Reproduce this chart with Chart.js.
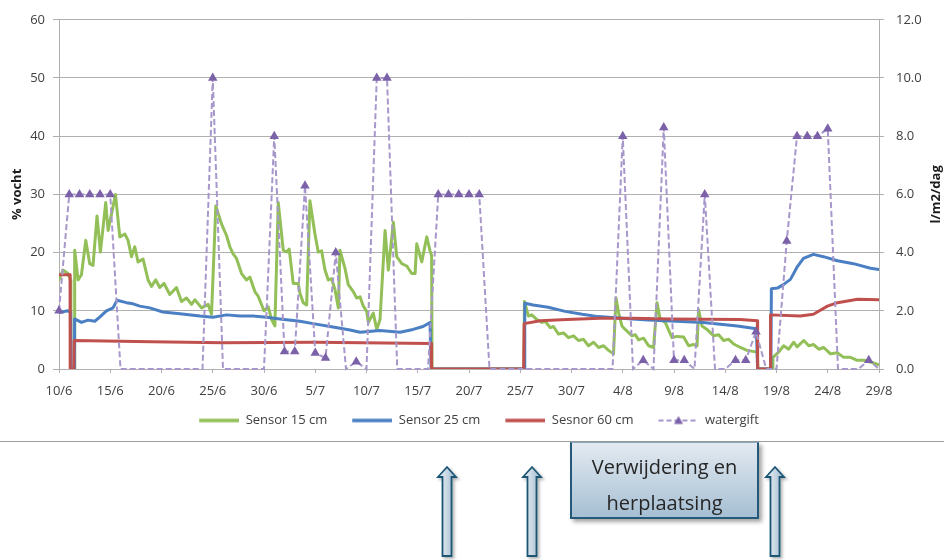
<!DOCTYPE html>
<html>
<head>
<meta charset="utf-8">
<script src="https://cdn.jsdelivr.net/npm/chart.js@4.4.1/dist/chart.umd.min.js"></script>
<style>
  body { margin: 0; background: #fff; font-family: 'Open Sans', sans-serif; }
  #wrap { position: relative; width: 944px; height: 560px; overflow: hidden; }
  #chart { position: absolute; left: 0; top: 0; }
  #rule { position: absolute; left: 0; top: 441px; width: 944px; height: 1px; background: #9c9c9c; }
  #note {
    position: absolute; left: 570px; top: 442px; width: 185px; height: 68px; padding-top: 6px;
    border: 2px solid #24597a; border-top: 1px solid #8aa7bc;
    background: linear-gradient(#e3eaf1, #a6bfd3);
    box-shadow: 3px 3px 4px rgba(0,0,0,0.35);
    text-align: center; font-size: 20px; line-height: 36px; color: #262626;
  }
  #arrows { position: absolute; left: 0; top: 0; }
</style>
</head>
<body>
<div id="wrap">
  <canvas id="chart" width="944" height="442"></canvas>
  <div id="rule"></div>
  <svg id="arrows" width="944" height="560"></svg>
  <div id="note">Verwijdering en<br>herplaatsing</div>
</div>
<script>
// ===============================
// Vochtgehalte sensoren + watergift
// ===============================

// x = dagen vanaf 10/6
const tickLabels = ['10/6', '15/6', '20/6', '25/6', '30/6', '5/7', '10/7', '15/7', '20/7',
  '25/7', '30/7', '4/8', '9/8', '14/8', '19/8', '24/8', '29/8'];
const seriesNames = ['Sensor 15 cm', 'Sensor 25 cm', 'Sesnor 60 cm', 'watergift'];

// % vocht, [dag, waarde]
const sensor15 = [
  [0, 15.3], [0.39, 17.0], [0.88, 16.4], [1.12, 15.3], [1.16, 0], [1.5, 0], [1.53, 20.4], [1.86, 15.3],
  [2.19, 16.2], [2.61, 22.1], [3.0, 18.1], [3.32, 17.8], [3.71, 26.3], [4.04, 20.1], [4.56, 28.6],
  [4.79, 23.8], [5.05, 26.0], [5.51, 30.0], [5.93, 22.7], [6.42, 23.2], [6.74, 22.1], [7.07, 19.3],
  [7.39, 21.0], [7.71, 18.4], [8.2, 18.9], [8.69, 15.3], [9.02, 14.2], [9.44, 15.3], [9.83, 14.0],
  [10.25, 14.7], [10.81, 12.8], [11.46, 14.0], [11.95, 11.6], [12.44, 12.2], [12.93, 11.1],
  [13.25, 11.9], [13.91, 10.5], [14.55, 11.1], [14.88, 9.4], [15.3, 28.0], [15.86, 24.9],
  [16.35, 22.9], [16.67, 21.0], [16.99, 19.8], [17.32, 19.0], [17.81, 16.4], [18.3, 15.3],
  [18.62, 15.8], [19.11, 13.3], [19.43, 12.5], [20.0, 10.0], [20.41, 10.7], [20.74, 8.5],
  [21.06, 7.4], [21.39, 28.6], [21.88, 20.4], [22.21, 20.1], [22.46, 20.6], [22.85, 14.7],
  [23.34, 14.7], [23.51, 13.0], [23.83, 11.4], [24.16, 11.0], [24.48, 28.9], [24.97, 23.2],
  [25.29, 20.1], [25.62, 20.3], [25.95, 17.0], [26.27, 15.3], [26.6, 15.5], [26.93, 13.6],
  [27.25, 10.5], [27.41, 20.4], [27.9, 17.3], [28.22, 14.5], [28.71, 13.3], [29.04, 12.2],
  [29.37, 12.4], [29.69, 10.8], [30.02, 9.9], [30.18, 8.0], [30.66, 9.6], [31.0, 6.8], [31.32, 8.5],
  [31.81, 23.8], [32.13, 17.0], [32.62, 25.2], [32.95, 19.3], [33.44, 18.1], [33.93, 17.7],
  [34.41, 16.4], [34.74, 16.4], [34.9, 21.5], [35.39, 18.4], [35.88, 22.7], [36.2, 20.3],
  [36.35, 19.5], [36.4, 0],
  [45.36, 0], [45.41, 11.6], [45.8, 9.1], [46.13, 9.3], [46.62, 8.5], [47.11, 8.0], [47.43, 8.2],
  [47.92, 7.1], [48.24, 7.3], [48.73, 6.0], [49.22, 6.2], [49.71, 5.4], [50.2, 5.7], [50.68, 4.9],
  [51.17, 5.1], [51.66, 4.0], [52.15, 4.6], [52.64, 3.7], [53.13, 4.0], [53.61, 3.2], [54.1, 2.6],
  [54.34, 12.2], [54.59, 9.7], [54.92, 7.4], [55.24, 6.8], [55.9, 5.7], [56.22, 5.9], [56.54, 5.0],
  [57.03, 5.3], [57.52, 4.0], [58.01, 3.7], [58.34, 11.4], [58.66, 8.5], [59.15, 8.0], [59.8, 5.4],
  [60.29, 5.6], [60.94, 5.5], [61.43, 4.0], [61.91, 4.2], [62.25, 4.0], [62.4, 10.2], [62.73, 7.4],
  [63.22, 6.8], [63.87, 5.7], [64.36, 5.9], [64.84, 4.9], [65.33, 5.1], [65.82, 4.3], [66.47, 3.7],
  [67.13, 3.2], [68.11, 2.9], [68.2, 0], [69.6, 0], [69.65, 2.0], [70.21, 2.9], [70.7, 4.0],
  [71.19, 3.4], [71.68, 4.6], [72.01, 3.8], [72.66, 4.9], [73.15, 4.0], [73.63, 4.2], [74.12, 3.4],
  [74.61, 3.7], [75.26, 2.6], [75.92, 2.8], [76.56, 2.0], [77.22, 2.0], [77.87, 1.5], [78.52, 1.5],
  [79.17, 1.2], [80, 0.7]
];

const sensor25 = [
  [0, 9.7], [0.88, 10.0], [1.14, 9.7], [1.18, 0], [1.48, 0], [1.52, 8.6], [2.19, 8.0], [2.83, 8.4],
  [3.49, 8.2], [3.97, 8.9], [4.63, 10.0], [5.27, 10.5], [5.66, 11.8], [6.58, 11.4], [7.23, 11.2],
  [7.88, 10.8], [8.86, 10.5], [10.13, 9.8], [11.79, 9.5], [13.75, 9.1], [15.01, 8.9], [16.35, 9.3],
  [17.65, 9.1], [18.92, 9.1], [20.25, 8.9], [21.55, 8.6], [23.51, 8.2], [24.78, 7.8], [26.73, 7.2],
  [28.39, 6.7], [29.37, 6.3], [31.32, 6.6], [33.27, 6.3], [34.54, 6.8], [35.52, 7.3], [36.2, 8.0],
  [36.3, 0],
  [45.38, 0], [45.44, 11.3], [46.26, 11.0], [47.72, 10.6], [49.38, 9.9], [51.05, 9.4], [52.61, 9.0],
  [54.27, 8.8], [55.93, 8.6], [57.49, 8.4], [59.64, 8.25], [62.86, 8.0], [66.18, 7.4], [68.04, 6.9],
  [68.15, 0], [69.45, 0], [69.5, 13.8], [70.09, 13.9], [70.67, 14.5], [71.36, 15.4], [72.04, 17.6],
  [72.63, 19.0], [73.6, 19.7], [74.58, 19.3], [75.95, 18.6], [77.51, 18.1], [79.17, 17.3], [80, 17.1]
];

const sensor60 = [
  [0, 16.2], [1.08, 16.2], [1.09, 0], [1.45, 0], [1.48, 4.9], [9, 4.7], [16, 4.5], [25, 4.6],
  [36.3, 4.4], [36.35, 0],
  [45.33, 0], [45.38, 7.8], [46.95, 8.3], [49.55, 8.5], [52.8, 8.7], [55.93, 8.7], [59.64, 8.6],
  [66.47, 8.5], [68.13, 8.3], [68.16, 0], [69.38, 0], [69.42, 9.3], [72.33, 9.1], [73.6, 9.4],
  [74.97, 10.8], [75.95, 11.4], [77.9, 12.0], [80, 11.9]
];

// l/m2/dag, een waarde per dag vanaf 10/6
const watergift = [
  2.0, 6.0, 6.0, 6.0, 6.0, 6.0, 0, 0, 0, 0, 0, 0, 0, 0, 0, 10.0, 0, 0, 0, 0, 0,
  8.0, 0.6, 0.6, 6.3, 0.55, 0.38, 4.0, 0, 0.25, 0, 10.0, 10.0, 0, 0, 0, 0,
  6.0, 6.0, 6.0, 6.0, 6.0, 0, 0, 0, 0, 0, 0, 0, 0, 0, 0, 0, 0, 0,
  8.0, 0, 0.3, 0, 8.3, 0.3, 0.3, 0, 6.0, 0, 0, 0.3, 0.3, 1.28, 0, 0,
  4.4, 8.0, 8.0, 8.0, 8.26, 0, 0, 0, 0.3, 0
];

const GREEN = '#92bf57';
const BLUE = '#4a7fc3';
const RED = '#c0504d';
const PURPLE = '#7b61a8';
const PURPLE_LINE = '#a797cb';
const GRID = '#b0b0b0';
const TEXT = '#404040';

Chart.defaults.font.family = "'Open Sans', sans-serif";
Chart.defaults.font.size = 13;
Chart.defaults.color = TEXT;

const toXY = arr => arr.map(p => ({ x: p[0], y: p[1] }));

// legend icons: 54 wide, line on the right 40 px (left part is spacing)
function legendIcon(color, dashed) {
    const c = document.createElement('canvas');
    c.width = 54; c.height = 12;
    const g = c.getContext('2d');
    g.strokeStyle = dashed ? PURPLE_LINE : color;
    g.lineWidth = dashed ? 2 : 3.5;
    if (dashed) g.setLineDash([5, 3]);
    g.beginPath(); g.moveTo(14, 6); g.lineTo(54, 6); g.stroke();
    if (dashed) {
        g.fillStyle = PURPLE;
        g.beginPath(); g.moveTo(34, 1.5); g.lineTo(38.5, 9.5); g.lineTo(29.5, 9.5); g.closePath(); g.fill();
    }
    return c;
}
const legendIcons = [legendIcon(GREEN), legendIcon(BLUE), legendIcon(RED), legendIcon(PURPLE, true)];

// right axis title reads bottom to top, like the left one
const rightTitle = {
    id: 'rightTitle',
    afterDraw(chart) {
        const ctx = chart.ctx;
        const area = chart.chartArea;
        ctx.save();
        ctx.translate(936, (area.top + area.bottom) / 2);
        ctx.rotate(-Math.PI / 2);
        ctx.font = "bold 13px 'Open Sans'";
        ctx.fillStyle = '#1e1e1e';
        ctx.textAlign = 'center';
        ctx.textBaseline = 'middle';
        ctx.fillText('l/m2/dag', 0, 0);
        ctx.restore();
    }
};

const ctx = document.getElementById('chart').getContext('2d');
new Chart(ctx, {
    type: 'line',
    data: {
        datasets: [
            {
                label: seriesNames[0], data: toXY(sensor15), yAxisID: 'y', order: 4,
                borderColor: GREEN, backgroundColor: GREEN, borderWidth: 3, pointRadius: 0,
                borderJoinStyle: 'round', borderCapStyle: 'round'
            },
            {
                label: seriesNames[1], data: toXY(sensor25), yAxisID: 'y', order: 3,
                borderColor: BLUE, backgroundColor: BLUE, borderWidth: 3, pointRadius: 0,
                borderJoinStyle: 'round', borderCapStyle: 'round'
            },
            {
                label: seriesNames[2], data: toXY(sensor60), yAxisID: 'y', order: 2,
                borderColor: RED, backgroundColor: RED, borderWidth: 3, pointRadius: 0,
                borderJoinStyle: 'round', borderCapStyle: 'round'
            },
            {
                label: seriesNames[3], data: watergift.map((v, i) => ({ x: i, y: v })), yAxisID: 'y2', order: 1,
                borderColor: PURPLE_LINE, backgroundColor: PURPLE, borderWidth: 2, borderDash: [6, 3],
                pointStyle: 'triangle', clip: 8,
                pointRadius: c => (c.raw && c.raw.y > 0 ? 5.5 : 0),
                pointBackgroundColor: PURPLE, pointBorderColor: PURPLE, pointBorderWidth: 0
            }
        ]
    },
    options: {
        responsive: false,
        animation: false,
        devicePixelRatio: 1,
        layout: { padding: { left: 0, right: 0, top: 15, bottom: 5 } },
        plugins: {
            tooltip: { enabled: false },
            legend: {
                position: 'bottom',
                labels: {
                    usePointStyle: true,
                    pointStyleWidth: 54,
                    padding: 11,
                    color: TEXT,
                    font: { size: 13 },
                    generateLabels(chart) {
                        const items = Chart.defaults.plugins.legend.labels.generateLabels(chart);
                        items.forEach(it => { it.pointStyle = legendIcons[it.datasetIndex]; });
                        return items;
                    },
                    sort: (a, b) => a.datasetIndex - b.datasetIndex
                }
            }
        },
        scales: {
            x: {
                type: 'linear',
                min: 0, max: 80,
                afterFit: s => { s.height = 34; },
                grid: { drawOnChartArea: false, drawTicks: true, tickLength: 4, color: GRID },
                border: { color: GRID },
                ticks: {
                    stepSize: 5, autoSkip: false, maxRotation: 0, padding: 10,
                    callback: v => tickLabels[v / 5]
                }
            },
            y: {
                position: 'left',
                min: 0, max: 60,
                afterFit: s => { s.width = 59; },
                grid: { color: GRID, tickLength: 6 },
                border: { color: GRID },
                ticks: { stepSize: 10, padding: 8 },
                title: {
                    display: true, text: '% vocht', color: '#1e1e1e',
                    font: { size: 13, weight: 'bold' }, padding: { top: 9, bottom: 0 }
                }
            },
            y2: {
                position: 'right',
                min: 0, max: 12,
                afterFit: s => { s.width = 65; },
                grid: { drawOnChartArea: false, tickLength: 5, color: GRID },
                border: { color: GRID },
                ticks: { stepSize: 2, padding: 12, callback: v => v.toFixed(1) }
            }
        }
    },
    plugins: [rightTitle]
});

// arrows under the chart (markeringen)
const arrowXs = [447, 532, 775];
const svg = document.getElementById('arrows');
const NS = 'http://www.w3.org/2000/svg';
svg.innerHTML = '<defs><linearGradient id="ag" x1="0" y1="0" x2="1" y2="0">' +
    '<stop offset="0" stop-color="#f1f5f8"/><stop offset="1" stop-color="#9db8cd"/></linearGradient>' +
    '<filter id="sh" x="-50%" y="-20%" width="200%" height="140%"><feDropShadow dx="2" dy="2" stdDeviation="1.5" flood-opacity="0.3"/></filter></defs>';
arrowXs.forEach(cx => {
    const tip = 467, base = 477, bottom = 556, hw = 9, sw = 4.5;
    const pts = [[cx, tip], [cx + hw, base], [cx + sw, base], [cx + sw, bottom],
        [cx - sw, bottom], [cx - sw, base], [cx - hw, base]].map(p => p.join(',')).join(' ');
    const poly = document.createElementNS(NS, 'polygon');
    poly.setAttribute('points', pts);
    poly.setAttribute('fill', 'url(#ag)');
    poly.setAttribute('stroke', '#1d5674');
    poly.setAttribute('stroke-width', '1.8');
    poly.setAttribute('stroke-linejoin', 'miter');
    poly.setAttribute('filter', 'url(#sh)');
    svg.appendChild(poly);
});
</script>
</body>
</html>
